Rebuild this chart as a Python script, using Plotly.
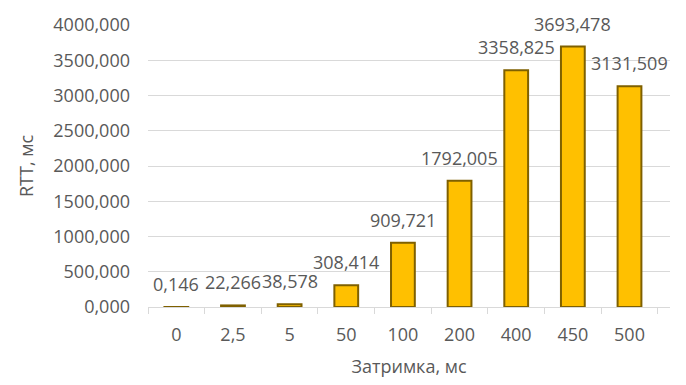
import plotly.graph_objects as go

# Delay settings (ms) and measured round-trip times (ms)
delays = ["0", "2,5", "5", "50", "100", "200", "400", "450", "500"]
rtt = [0.146, 22.266, 38.578, 308.414, 909.721, 1792.005, 3358.825, 3693.478, 3131.509]
rtt_labels = ["0,146", "22,266", "38,578", "308,414", "909,721", "1792,005", "3358,825", "3693,478", "3131,509"]

y_ticks = [0, 500, 1000, 1500, 2000, 2500, 3000, 3500, 4000]
y_tick_text = [f"{v},000" for v in y_ticks]

font_family = "Open Sans, Noto Sans, sans-serif"
text_color = "#595959"
fs = 18

fig = go.Figure(
    go.Bar(
        x=delays,
        y=rtt,
        cliponaxis=False,
        marker=dict(color="#FFC000", line=dict(color="#7F6000", width=2)),
        width=0.42,
    )
)

# Value labels sitting a little above each bar (x given as category index)
for i, (val, lbl) in enumerate(zip(rtt, rtt_labels)):
    fig.add_annotation(
        x=i, y=val, xref="x", yref="y",
        text=lbl, showarrow=False,
        yanchor="bottom", yshift=9,
        font=dict(size=fs, color=text_color, family=font_family),
    )

fig.update_layout(
    width=686,
    height=385,
    margin=dict(l=148, r=16, t=20, b=76),
    paper_bgcolor="white",
    plot_bgcolor="white",
    showlegend=False,
    font=dict(family=font_family, color=text_color, size=fs),
)

fig.update_xaxes(
    type="category",
    categoryorder="array",
    categoryarray=delays,
    showline=True,
    linecolor="#D9D9D9",
    linewidth=1,
    ticks="outside",
    tickson="boundaries",
    ticklen=6,
    tickcolor="#D9D9D9",
    tickfont=dict(size=fs, color=text_color),
    ticklabelstandoff=11,
    title=dict(text="Затримка, мс", font=dict(size=fs, color=text_color), standoff=15),
    showgrid=False,
)

fig.update_yaxes(
    range=[0, 4000],
    tickvals=y_ticks,
    ticktext=y_tick_text,
    showgrid=True,
    gridcolor="#D9D9D9",
    gridwidth=1,
    zeroline=False,
    showline=False,
    ticks="",
    tickfont=dict(size=fs, color=text_color),
    ticklabelstandoff=17,
    title=dict(text="RTT, мс", font=dict(size=fs, color=text_color), standoff=14),
)

fig.write_html("out.html")
